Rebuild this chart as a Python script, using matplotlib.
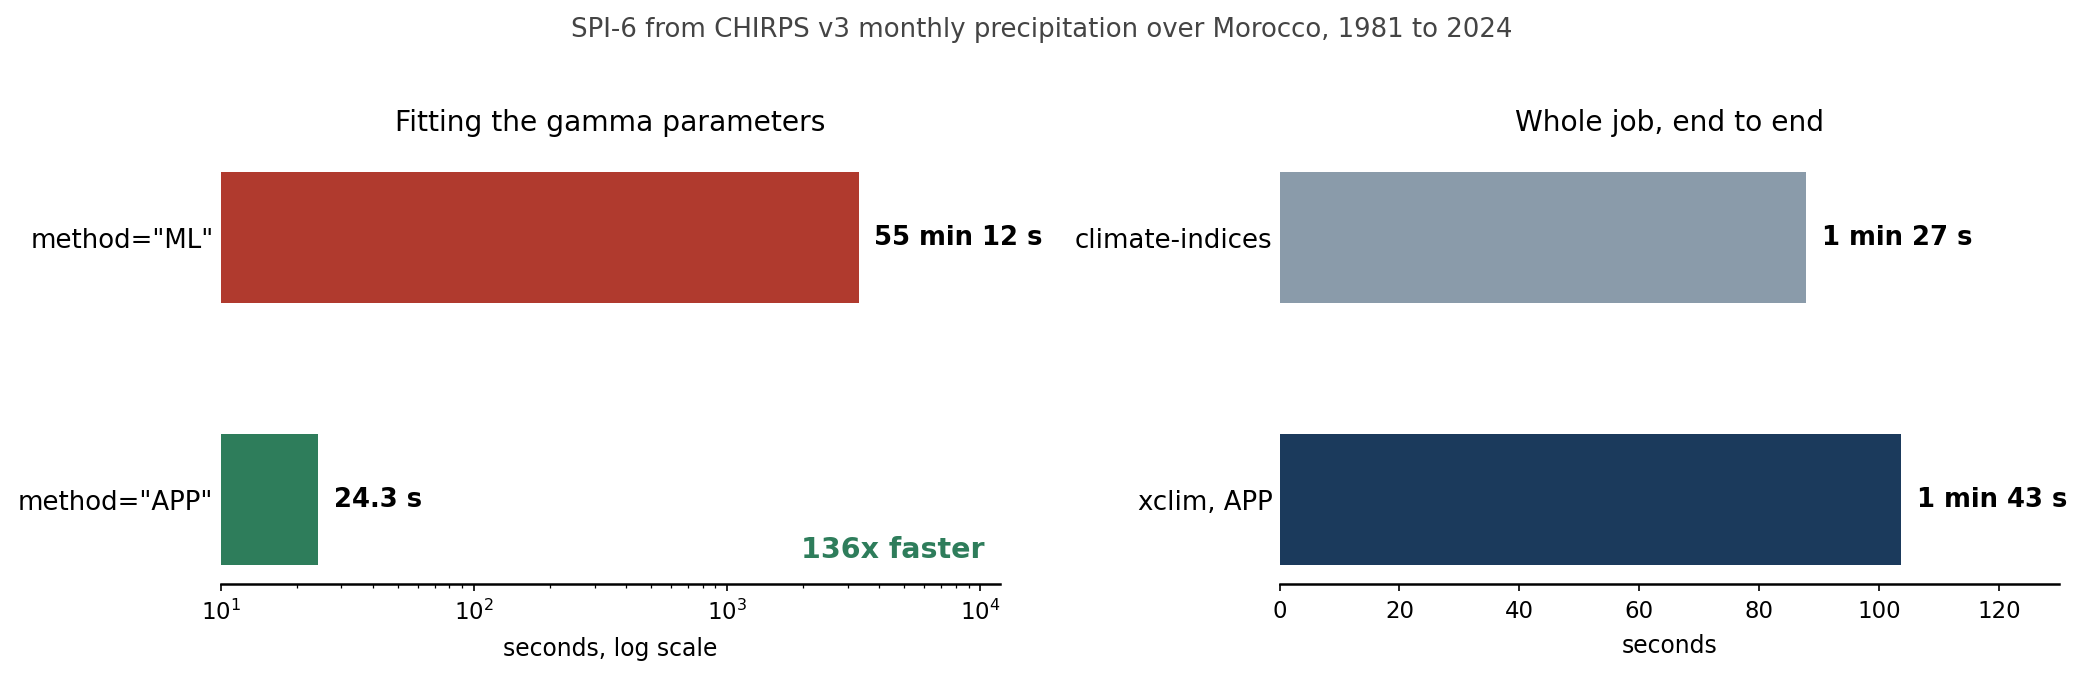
import matplotlib
matplotlib.use("Agg")
import matplotlib.pyplot as plt

# Data
fit_labels = ['method="ML"', 'method="APP"']
fit_seconds = [3312.0, 24.3]
fit_texts = ["55 min 12 s", "24.3 s"]
fit_colors = ["#B03A2E", "#2E7D5B"]

job_labels = ["climate-indices", "xclim, APP"]
job_seconds = [87.8, 103.7]
job_texts = ["1 min 27 s", "1 min 43 s"]
job_colors = ["#8A9BAA", "#1B3A5C"]

speedup_text = "136x faster"

fig = plt.figure(figsize=(13.893, 4.533), dpi=150)
ax1 = fig.add_axes([0.1059, 0.139, 0.480 - 0.1059, 0.775 - 0.139])
ax2 = fig.add_axes([0.614, 0.139, 0.988 - 0.614, 0.775 - 0.139])

def style(ax):
    for s in ("top", "right", "left"):
        ax.spines[s].set_visible(False)
    ax.spines["bottom"].set_linewidth(1.2)
    ax.tick_params(axis="y", length=0, labelsize=12.5, pad=3.5)
    ax.tick_params(axis="x", labelsize=11)

ypos = [0, 1]
ax1.barh(ypos, fit_seconds, height=0.5, color=fit_colors)
ax1.set_xscale("log")
ax1.set_xlim(10, 12000)
ax1.set_yticks(ypos)
ax1.set_yticklabels(fit_labels)
ax1.invert_yaxis()
for y, v, t in zip(ypos, fit_seconds, fit_texts):
    ax1.annotate(t, xy=(v, y), xytext=(7.5, 0), textcoords="offset points",
                 va="center", ha="left", fontsize=12.4, fontweight="bold")
ax1.text(0.98, 0.05, speedup_text, transform=ax1.transAxes, ha="right", va="bottom",
         fontsize=13.7, fontweight="bold", color="#2E7D5B")
ax1.set_xlabel("seconds, log scale", fontsize=11.3, labelpad=5.5)
ax1.set_title("Fitting the gamma parameters", fontsize=13.5, pad=10.5)
style(ax1)

ax2.barh(ypos, job_seconds, height=0.5, color=job_colors)
ax2.set_xlim(0, 130)
ax2.set_xticks([0, 20, 40, 60, 80, 100, 120])
ax2.set_yticks(ypos)
ax2.set_yticklabels(job_labels)
ax2.invert_yaxis()
for y, v, t in zip(ypos, job_seconds, job_texts):
    ax2.annotate(t, xy=(v, y), xytext=(7.5, 0), textcoords="offset points",
                 va="center", ha="left", fontsize=12.4, fontweight="bold")
ax2.set_xlabel("seconds", fontsize=11.3, labelpad=5.5)
ax2.set_title("Whole job, end to end", fontsize=13.5, pad=10.5)
style(ax2)

fig.suptitle("SPI-6 from CHIRPS v3 monthly precipitation over Morocco, 1981 to 2024",
             fontsize=12.5, color="#444444", y=0.975)

fig.savefig("out.png", dpi=150)
